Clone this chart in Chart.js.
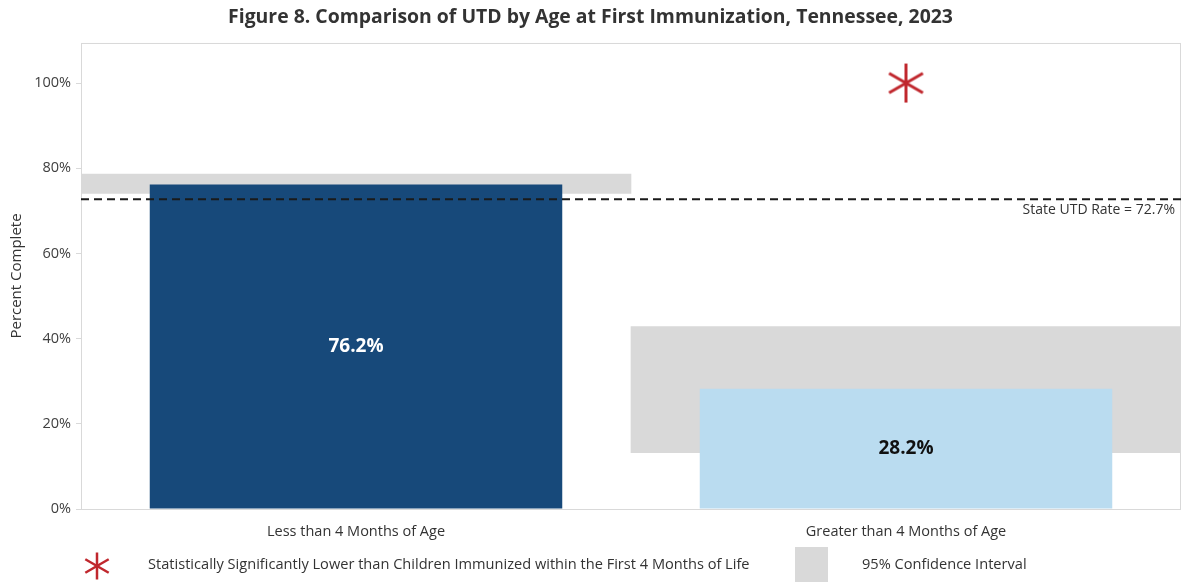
<!DOCTYPE html>
<html>
<head>
<meta charset="utf-8">
<script src="https://cdn.jsdelivr.net/npm/chart.js@4.4.1/dist/chart.umd.min.js"></script>
<style>
  html, body { margin: 0; padding: 0; background: #fff; }
  #c { display: block; }
</style>
</head>
<body>
<canvas id="c" width="1185" height="582" style="width:1185px;height:582px"></canvas>
<script>
const categories = ["Less than 4 Months of Age", "Greater than 4 Months of Age"];
const utdRates = [76.2, 28.2];
const ciLow = [74.1, 13.2];
const ciHigh = [78.6, 42.8];
const significantMarks = [null, 100]; // asterisk drawn above bar 2
const stateRate = 72.7;
const yTicks = [0, 20, 40, 60, 80, 100];

const FONT = "'Open Sans', 'Noto Sans', sans-serif";
const barColors = ["#17497a", "#badcf0"];
const labelColors = ["#ffffff", "#111111"];
const ciColor = "#d9d9d9";
const starColor = "#c0272d";

// six-armed asterisk as a canvas point style
function makeStar(r, lw) {
  const cv = document.createElement("canvas");
  const s = Math.ceil(r * 2 + lw * 2);
  cv.width = s; cv.height = s;
  const ctx = cv.getContext("2d");
  ctx.strokeStyle = starColor;
  ctx.lineWidth = lw;
  const c = s / 2;
  [90, 30, 150].forEach(a => {
    const rad = a * Math.PI / 180;
    const dx = Math.cos(rad) * r, dy = Math.sin(rad) * r;
    ctx.beginPath();
    ctx.moveTo(c - dx, c - dy);
    ctx.lineTo(c + dx, c + dy);
    ctx.stroke();
  });
  return cv;
}
const bigStar = makeStar(19.5, 3);
const smallStar = makeStar(13.5, 2.5);

const decor = {
  id: "decor",
  beforeDatasetsDraw(chart) {
    const { ctx, chartArea: a } = chart;
    ctx.save();
    ctx.strokeStyle = "#d9d9d9";
    ctx.lineWidth = 1;
    ctx.strokeRect(a.left + 0.5, a.top + 0.5, a.right - a.left - 1, a.bottom - a.top);
    ctx.restore();
  },
  afterDatasetsDraw(chart) {
    const { ctx, chartArea: a } = chart;
    const meta = chart.getDatasetMeta(1);
    ctx.save();
    ctx.font = "bold 19px " + FONT;
    ctx.textAlign = "center";
    ctx.textBaseline = "middle";
    meta.data.forEach((el, i) => {
      ctx.fillStyle = labelColors[i];
      ctx.fillText(utdRates[i].toFixed(1) + "%", el.x, (el.y + el.base) / 2);
    });
    // state rate label
    const y = chart.scales.y.getPixelForValue(stateRate);
    ctx.font = "14px " + FONT;
    ctx.fillStyle = "#333";
    ctx.textAlign = "right";
    ctx.fillText("State UTD Rate = " + stateRate + "%", a.right - 6, y + 11);
    ctx.restore();
  },
  afterDraw(chart) {
    const { ctx } = chart;
    ctx.save();
    ctx.drawImage(smallStar, 97 - smallStar.width / 2, 566 - smallStar.height / 2);
    ctx.font = "14.6px " + FONT;
    ctx.fillStyle = "#333";
    ctx.textBaseline = "middle";
    ctx.textAlign = "left";
    ctx.fillText("Statistically Significantly Lower than Children Immunized within the First 4 Months of Life", 148, 565);
    ctx.fillStyle = ciColor;
    ctx.fillRect(795, 547, 33, 35);
    ctx.fillStyle = "#333";
    ctx.fillText("95% Confidence Interval", 862, 565);
    ctx.restore();
  }
};

new Chart(document.getElementById("c"), {
  type: "bar",
  data: {
    labels: categories,
    datasets: [
      {
        label: "95% Confidence Interval",
        data: ciLow.map((v, i) => [v, ciHigh[i]]),
        backgroundColor: ciColor,
        barPercentage: 1,
        categoryPercentage: 1,
        grouped: false,
        order: 3
      },
      {
        label: "UTD",
        data: utdRates,
        backgroundColor: barColors,
        barPercentage: 0.75,
        categoryPercentage: 1,
        grouped: false,
        order: 2
      },
      {
        type: "line",
        label: "State UTD Rate",
        xAxisID: "x2",
        data: [{ x: 0, y: stateRate }, { x: 2, y: stateRate }],
        borderColor: "#1a1a1a",
        borderWidth: 2,
        borderDash: [8, 5],
        pointRadius: 0,
        order: 1
      },
      {
        type: "line",
        label: "Significant",
        data: significantMarks,
        showLine: false,
        pointStyle: bigStar,
        pointRadius: 10,
        order: 0
      }
    ]
  },
  options: {
    responsive: false,
    animation: false,
    layout: { autoPadding: false, padding: { left: 0, right: 4, top: 0, bottom: 0 } },
    plugins: {
      legend: { display: false },
      tooltip: { enabled: false },
      title: {
        display: true,
        text: "Figure 8. Comparison of UTD by Age at First Immunization, Tennessee, 2023",
        color: "#333",
        font: { family: FONT, size: 19.4, weight: "bold" },
        padding: { top: 6.3, bottom: 13.4 }
      }
    },
    scales: {
      x: {
        grid: { display: false },
        border: { display: false },
        ticks: { color: "#333", font: { family: FONT, size: 14.5 }, padding: 6 },
        afterFit(s) { s.height = 73; s.paddingLeft = 0; s.paddingRight = 0; }
      },
      x2: { type: "linear", min: 0, max: 2, offset: false, display: false },
      y: {
        min: 0,
        max: 109.4,
        afterBuildTicks(s) { s.ticks = yTicks.map(v => ({ value: v })); },
        grid: { drawOnChartArea: false, tickLength: 5, color: "#d9d9d9" },
        border: { display: false },
        ticks: {
          color: "#404040",
          font: { family: FONT, size: 14.5 },
          padding: 5,
          callback: v => v + "%"
        },
        title: {
          display: true,
          text: "Percent Complete",
          color: "#333",
          font: { family: FONT, size: 15 },
          padding: { top: 8, bottom: 0 }
        },
        afterFit(s) { s.width = 81; }
      }
    }
  },
  plugins: [decor]
});
</script>
</body>
</html>
